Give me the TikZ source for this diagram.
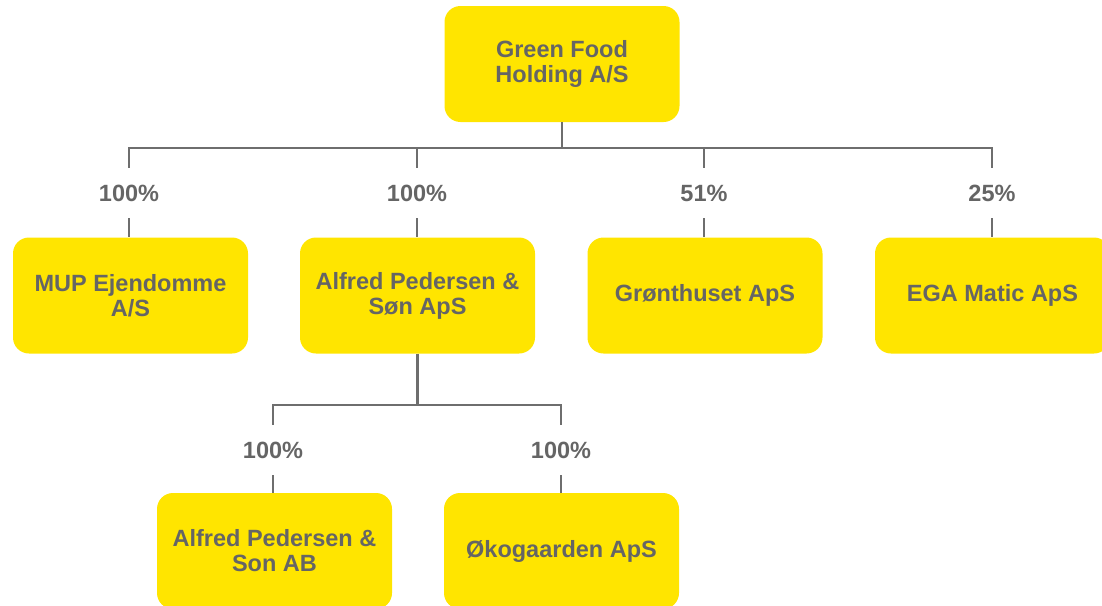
\documentclass[tikz,border=0pt]{standalone}
\usepackage{fontspec}
\setmainfont{Liberation Sans}
\definecolor{boxyellow}{HTML}{FFE500}
\definecolor{txtgray}{HTML}{656565}
\definecolor{linegray}{HTML}{6E6E6E}
\begin{document}
\begin{tikzpicture}[x=1pt,y=-1pt,
  company/.style={fill=boxyellow,rounded corners=16pt,minimum width=235pt,minimum height=116pt,
    align=center,text=txtgray,font=\bfseries\fontsize{23.5}{25}\selectfont,inner sep=0pt},
  pct/.style={minimum height=50pt,inner sep=0pt,text=txtgray,font=\bfseries\fontsize{23.5}{25}\selectfont},
  conn/.style={draw=linegray,line width=2.8pt}]
\useasboundingbox (0,0) rectangle (1102,605);
\begin{scope}
\clip (0,0) rectangle (1102,605);
\node[company] (top) at (562,64) {Green Food\\Holding A/S};
\node[company] (mup) at (130.5,295.5) {MUP Ejendomme\\A/S};
\node[company] (ap) at (417.5,295.5) {Alfred Pedersen \&\\Søn ApS};
\node[company] (gr) at (705,295.5) {Grønthuset ApS};
\node[company] (ega) at (992.5,295.5) {EGA Matic ApS};
\node[company] (ab) at (274.5,551) {Alfred Pedersen \&\\Son AB};
\node[company] (oko) at (561.5,551) {Økogaarden ApS};
\end{scope}
\node[pct] (l1) at (129,193) {100\%};
\node[pct] (l2) at (417,193) {100\%};
\node[pct] (l3) at (704,193) {51\%};
\node[pct] (l4) at (992,193) {25\%};
\node[pct] (l5) at (273,450) {100\%};
\node[pct] (l6) at (561,450) {100\%};
\coordinate (bus) at (562,148);
\coordinate (bus2) at (417.5,405);
\draw[conn] (top.south) -- (bus);
\draw[conn] (bus) -| (l1.north);
\draw[conn] (bus) -| (l2.north);
\draw[conn] (bus) -| (l3.north);
\draw[conn] (bus) -| (l4.north);
\draw[conn] (l1.south) -- (l1.south |- mup.north);
\draw[conn] (l2.south) -- (l2.south |- ap.north);
\draw[conn] (l3.south) -- (l3.south |- gr.north);
\draw[conn] (l4.south) -- (l4.south |- ega.north);
\draw[conn] (ap.south) -- (bus2);
\draw[conn] (bus2) -| (l5.north);
\draw[conn] (bus2) -| (l6.north);
\draw[conn] (l5.south) -- (l5.south |- ab.north);
\draw[conn] (l6.south) -- (l6.south |- oko.north);
\end{tikzpicture}
\end{document}
